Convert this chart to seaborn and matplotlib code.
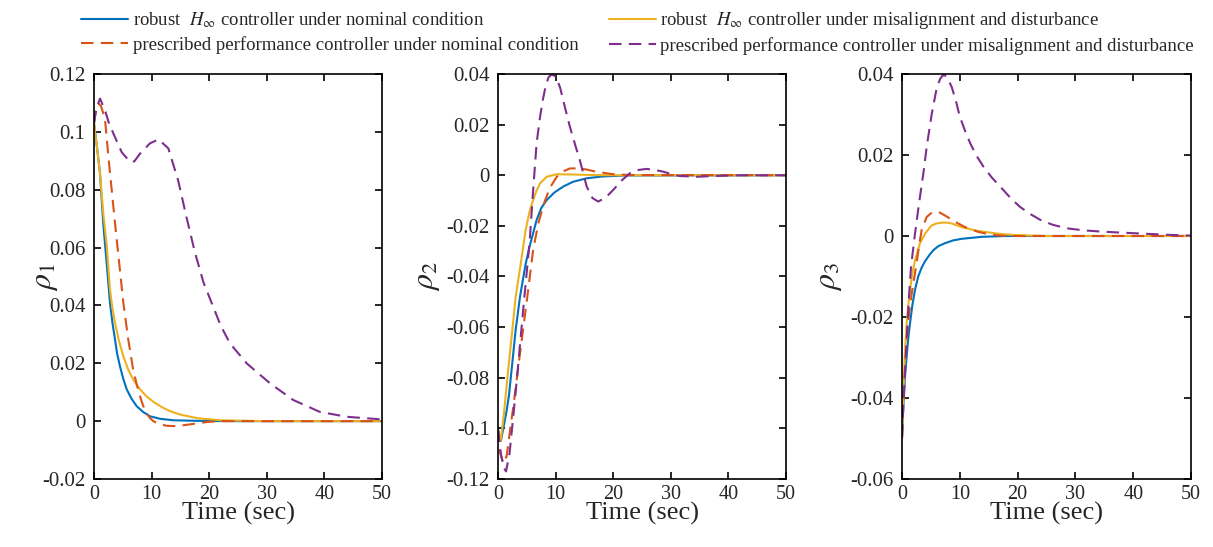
import numpy as np
import pandas as pd
import matplotlib
matplotlib.use("Agg")
import matplotlib.pyplot as plt
from matplotlib.ticker import MultipleLocator, FuncFormatter
import seaborn as sns

# ---------------- data ----------------
series_names = [
    r"robust  $H_{\infty}$ controller under nominal condition",
    r"robust  $H_{\infty}$ controller under misalignment and disturbance",
    "prescribed performance controller under nominal condition",
    "prescribed performance controller under misalignment and disturbance",
]
series_colors = ["#0072BD", "#EDB120", "#D95319", "#7E2F8E"]
series_dashed = [False, False, True, True]

# ---- panel 1 : rho_1 ----
t1_blue = [0, 0.5, 1.04, 1.6, 2.2, 2.78, 3.2, 3.65, 4.0, 4.5, 5.1, 5.68, 6.5, 7.4, 8.5, 9.7, 11.5, 13.8, 18, 25, 50]
v1_blue = [0.103, 0.095, 0.0857, 0.0684, 0.0546, 0.0408, 0.034, 0.0282, 0.0235, 0.019, 0.0145, 0.011, 0.0078, 0.0052, 0.0032, 0.0017, 0.0008, 0.0003, 0.0001, 0, 0]
t1_yell = [0, 0.5, 1.04, 1.6, 2.2, 2.78, 3.2, 3.65, 4.3, 5.1, 5.9, 6.8, 7.9, 9.1, 10.5, 12, 13.4, 14.9, 18, 22, 30, 50]
v1_yell = [0.103, 0.095, 0.0857, 0.072, 0.061, 0.0454, 0.039, 0.034, 0.028, 0.0224, 0.018, 0.0144, 0.0112, 0.0086, 0.0064, 0.0046, 0.0033, 0.0023, 0.001, 0.0003, 0, 0]
t1_red = [0, 0.3, 0.75, 1.2, 1.9, 2.5, 3.07, 3.65, 4.5, 5.1, 5.95, 6.8, 7.4, 7.99, 8.5, 9.1, 9.7, 10.3, 11.5, 12.6, 13.8, 15.2, 16.7, 19.6, 22, 30, 50]
v1_red = [0.103, 0.107, 0.1098, 0.109, 0.1046, 0.0914, 0.080, 0.0684, 0.0523, 0.0408, 0.0282, 0.0178, 0.0128, 0.0086, 0.0055, 0.0029, 0.0011, 0.0, -0.0011, -0.0016, -0.0017, -0.0015, -0.0011, -0.0003, 0, 0, 0]
t1_purp = [0, 0.4, 1.04, 1.9, 2.6, 3.35, 4.8, 6.25, 7.0, 8.0, 9.7, 11.2, 12.9, 14.6, 16.0, 17.5, 19.0, 20.7, 22.0, 23.6, 26.5, 30.6, 34.6, 39.2, 43.9, 50]
v1_purp = [0.103, 0.108, 0.1115, 0.1075, 0.103, 0.0995, 0.093, 0.0896, 0.0898, 0.0925, 0.096, 0.0974, 0.0943, 0.0833, 0.071, 0.0585, 0.048, 0.0395, 0.033, 0.0269, 0.020, 0.013, 0.0073, 0.0032, 0.0015, 0.0006]

# ---- panel 2 : rho_2 ----
t2_blue = [0, 0.5, 1.0, 1.5, 1.9, 2.49, 3.07, 3.82, 4.8, 5.5, 6.25, 6.7, 7.5, 8.45, 9.8, 11.3, 13, 15.4, 18, 22, 50]
v2_blue = [-0.1005, -0.105, -0.099, -0.093, -0.087, -0.074, -0.061, -0.048, -0.035, -0.028, -0.0216, -0.0177, -0.013, -0.0098, -0.0068, -0.0045, -0.0026, -0.0012, -0.0005, -0.0001, 0]
t2_yell = [0, 0.46, 0.9, 1.33, 1.9, 2.49, 3.07, 3.94, 4.8, 5.55, 6.1, 6.7, 7.3, 8.45, 10.2, 13, 16, 20, 50]
v2_yell = [-0.1005, -0.105, -0.097, -0.087, -0.074, -0.061, -0.048, -0.035, -0.0216, -0.0137, -0.0098, -0.0060, -0.0032, -0.0006, 0.0004, 0.0003, 0.0001, 0, 0]
t2_red = [0, 0.4, 0.92, 1.5, 2.08, 2.66, 3.82, 4.98, 6.1, 7.0, 8.0, 9.0, 10.2, 11.3, 12.5, 14.2, 15.5, 17, 20, 23, 50]
v2_red = [-0.1005, -0.110, -0.1138, -0.111, -0.101, -0.0914, -0.0704, -0.050, -0.0295, -0.019, -0.011, -0.005, -0.0006, 0.0015, 0.0027, 0.0027, 0.0022, 0.0014, 0.0004, 0.0001, 0]
t2_purp = [0, 0.5, 1.0, 1.39, 2.0, 2.66, 3.3, 3.9, 4.5, 5.0, 5.5, 6.1, 6.7, 7.3, 7.8, 8.3, 8.8, 9.3, 9.8, 10.3, 10.8, 11.6, 12.5, 13.4, 14.2, 15.4, 16.4, 17.4, 18.7, 20, 21.5, 22.9, 24.4, 25.8, 27.2, 28.7, 30, 31.6, 34.5, 37.5, 42, 50]
v2_purp = [-0.1005, -0.110, -0.1155, -0.117, -0.110, -0.095, -0.080, -0.065, -0.050, -0.038, -0.026, -0.006, 0.0126, 0.023, 0.030, 0.0355, 0.0388, 0.0398, 0.0393, 0.0375, 0.0345, 0.027, 0.019, 0.012, 0.006, -0.0045, -0.009, -0.0104, -0.0088, -0.0058, -0.002, 0.0008, 0.0021, 0.0025, 0.0021, 0.0014, 0.0005, -0.0003, -0.0006, -0.0003, 0, 0]

# ---- panel 3 : rho_3 ----
t3_blue = [0, 0.23, 0.5, 0.8, 1.1, 1.38, 1.8, 2.25, 2.8, 3.4, 4.0, 4.84, 5.5, 6.3, 7.4, 8.8, 10.3, 13.8, 18, 50]
v3_blue = [-0.050, -0.042, -0.035, -0.0298, -0.025, -0.0216, -0.017, -0.0133, -0.010, -0.0078, -0.0062, -0.0045, -0.0034, -0.0025, -0.0018, -0.0011, -0.0007, -0.0002, 0, 0]
t3_yell = [0, 0.23, 0.5, 0.8, 1.1, 1.38, 1.8, 2.25, 3.1, 4.0, 5.1, 6.0, 6.9, 7.8, 8.6, 10.3, 12.6, 14.4, 17, 20, 25, 50]
v3_yell = [-0.050, -0.039, -0.029, -0.0216, -0.017, -0.0133, -0.0092, -0.006, -0.0018, 0.0006, 0.0026, 0.0031, 0.0033, 0.0033, 0.0031, 0.0022, 0.0014, 0.001, 0.0005, 0.0002, 0, 0]
t3_red = [0, 0.23, 0.5, 0.8, 1.2, 1.7, 2.25, 2.94, 3.4, 4.27, 5.0, 5.7, 6.5, 7.4, 9.2, 10.9, 13.2, 15.5, 18, 22, 50]
v3_red = [-0.050, -0.041, -0.033, -0.026, -0.0195, -0.014, -0.0092, -0.0026, 0.0015, 0.0047, 0.0056, 0.006, 0.0058, 0.0051, 0.0035, 0.0022, 0.001, 0.0003, 0, 0, 0]
t3_purp = [0, 0.23, 0.52, 0.8, 1.1, 1.56, 2.25, 2.94, 3.7, 4.27, 5.13, 6.0, 6.6, 7.0, 7.4, 7.9, 8.6, 9.3, 10, 10.9, 11.8, 12.9, 14.1, 15.5, 17, 18.7, 20.4, 22.1, 23.9, 26, 28.5, 31.4, 34.3, 37, 40, 45.8, 50]
v3_purp = [-0.0496, -0.042, -0.034, -0.026, -0.0175, -0.0076, 0.0006, 0.008, 0.0155, 0.022, 0.030, 0.0365, 0.0388, 0.0396, 0.0397, 0.0389, 0.0368, 0.0335, 0.0295, 0.026, 0.0229, 0.0198, 0.0171, 0.0145, 0.0122, 0.0095, 0.0072, 0.0055, 0.004, 0.0028, 0.0019, 0.0014, 0.0011, 0.0009, 0.0007, 0.0003, 0.0001]

panels = [
    dict(ylabel=r"$\rho_1$", ylim=(-0.02, 0.12),
         data=[(t1_blue, v1_blue), (t1_yell, v1_yell), (t1_red, v1_red), (t1_purp, v1_purp)]),
    dict(ylabel=r"$\rho_2$", ylim=(-0.12, 0.04),
         data=[(t2_blue, v2_blue), (t2_yell, v2_yell), (t2_red, v2_red), (t2_purp, v2_purp)]),
    dict(ylabel=r"$\rho_3$", ylim=(-0.06, 0.04),
         data=[(t3_blue, v3_blue), (t3_yell, v3_yell), (t3_red, v3_red), (t3_purp, v3_purp)]),
]

# ---------------- styling ----------------
sns.set_theme(style="ticks")
plt.rcParams.update({
    "font.family": ["Liberation Serif", "DejaVu Serif"],
    "mathtext.fontset": "stix",
    "axes.unicode_minus": False,
    "axes.linewidth": 1.2,
    "axes.edgecolor": "black",
    "xtick.direction": "in",
    "ytick.direction": "in",
    "xtick.top": True,
    "ytick.right": True,
    "xtick.major.size": 5,
    "ytick.major.size": 5,
    "xtick.major.width": 1.2,
    "ytick.major.width": 1.2,
    "xtick.color": "black",
    "ytick.color": "black",
    "xtick.labelcolor": "#262626",
    "ytick.labelcolor": "#262626",
})

fig = plt.figure(figsize=(12.13, 5.47), dpi=100)
lefts = [94 / 1213, 498 / 1213, 902 / 1213]
widths = [288 / 1213, 288 / 1213, 289 / 1213]
bottom = (547 - 479) / 547
height = 405 / 547
ylabel_x = [-0.118, -0.195, -0.2]

palette = dict(zip(series_names, series_colors))
dashes = {n: ((6, 3.5) if d else "") for n, d in zip(series_names, series_dashed)}

handles = None
for i, p in enumerate(panels):
    ax = fig.add_axes([lefts[i], bottom, widths[i], height])
    frames = []
    for name, (t, v) in zip(series_names, p["data"]):
        frames.append(pd.DataFrame({"time": t, "value": v, "series": name}))
    df = pd.concat(frames, ignore_index=True)
    sns.lineplot(data=df, x="time", y="value", hue="series", style="series",
                 hue_order=series_names, style_order=series_names,
                 palette=palette, dashes=dashes, estimator=None, sort=False,
                 legend=False, linewidth=1.5, ax=ax)
    ax.set_xlim(0, 50)
    ax.set_ylim(*p["ylim"])
    ax.xaxis.set_major_locator(MultipleLocator(10))
    ax.yaxis.set_major_locator(MultipleLocator(0.02))
    ax.yaxis.set_major_formatter(FuncFormatter(lambda y, pos: "%g" % round(y, 4)))
    ax.tick_params(axis="y", labelsize=15, pad=6)
    ax.tick_params(axis="x", labelsize=14.5, pad=4)
    ax.set_xlabel("Time (sec)", fontsize=19, color="#262626", labelpad=-1)
    ax.set_ylabel(p["ylabel"], fontsize=23, color="#262626")
    ax.yaxis.set_label_coords(ylabel_x[i], 0.5)
    for s in ax.spines.values():
        s.set_visible(True)
    if handles is None:
        handles = list(ax.get_lines())[:4]

# legend: column 1 = blue / red, column 2 = yellow / purple
order = [0, 2, 1, 3]
fig.legend([handles[k] for k in order], [series_names[k] for k in order],
           loc="upper left", bbox_to_anchor=(0.0563, 1.005), ncol=2,
           frameon=False, fontsize=13.5, handlelength=2.5, handletextpad=0.25,
           columnspacing=1.6, labelspacing=0.3, borderpad=0.2)

fig.savefig("out.png", dpi=100)
